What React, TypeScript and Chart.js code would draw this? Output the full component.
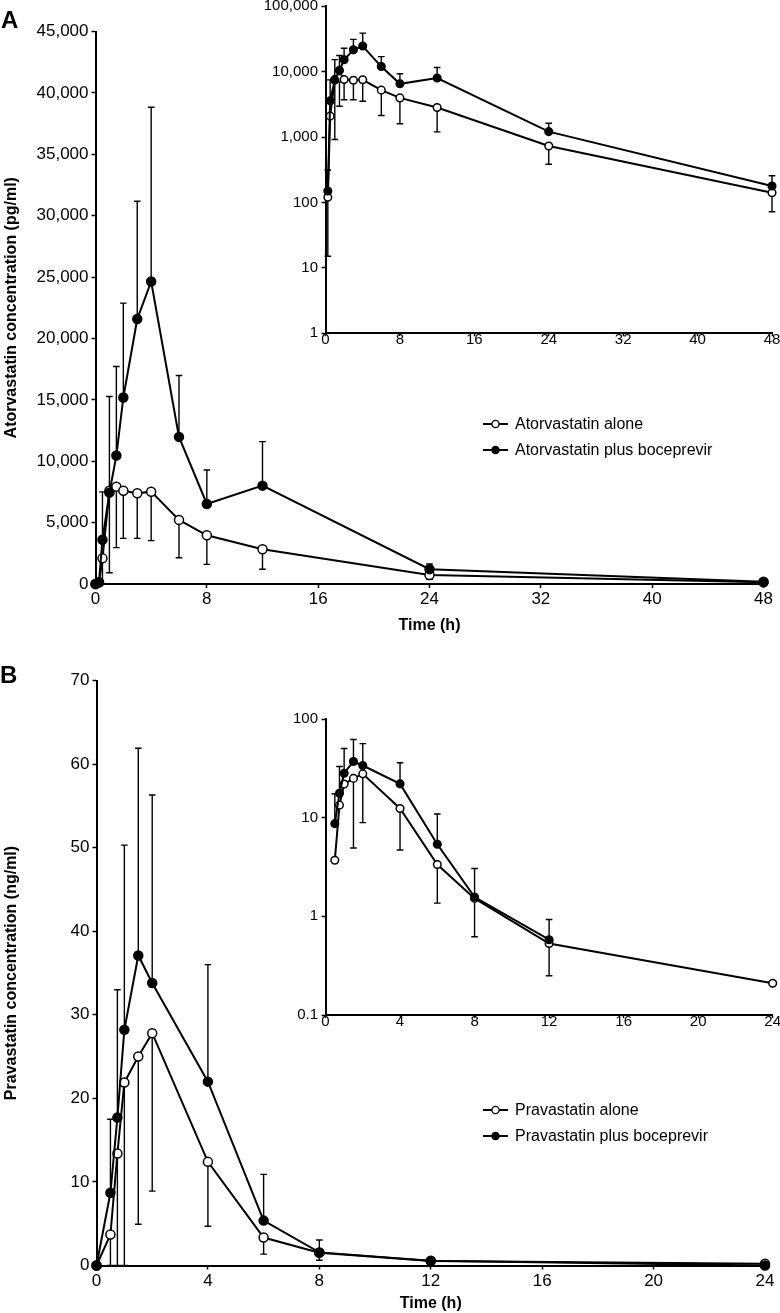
import React, { useEffect, useRef } from 'react';
import { Chart, registerables } from 'chart.js';

Chart.register(...registerables);

const FONT = '"Liberation Sans", Arial, Helvetica, sans-serif';

// ---- Panel A: atorvastatin (pg/ml) ----
const atorTime = [0, 0.25, 0.5, 1, 1.5, 2, 3, 4, 6, 8, 12, 24, 48];
const atorAlone = [0, 120, 2090, 7600, 7930, 7600, 7390, 7520, 5220, 3970, 2830, 731, 141];
const atorAloneLower = [null, 15, 0, 920, 2960, 3720, 3720, 3530, 2140, 1600, 1200, 383, 72];
const atorPlus = [0, 150, 3600, 7440, 10460, 15190, 21580, 24640, 11980, 6520, 8010, 1210, 178];
const atorPlusUpper = [null, 313, 7500, 15270, 17710, 22880, 31170, 38830, 16980, 9290, 11600, 1630, 256];
const atorLogTicks = [1, 10, 100, 1000, 10000, 100000];

// ---- Panel B: pravastatin (ng/ml) ----
const pravaTime = [0, 0.5, 0.75, 1, 1.5, 2, 4, 6, 8, 12, 24];
const pravaAlone = [0, 3.7, 13.4, 21.9, 25.0, 27.8, 12.4, 3.35, 1.52, 0.53, 0.21];
const pravaAloneLower = [null, 0, 0, 0, 4.93, 8.9, 4.7, 1.36, 0.62, 0.25, null];
const pravaPlus = [0, 8.7, 17.7, 28.2, 37.1, 33.8, 22.0, 5.37, 1.57, 0.58, 0];
const pravaPlusUpper = [null, 17.5, 33.0, 50.3, 61.9, 56.3, 36.0, 10.9, 3.05, 0.93, null];
const pravaLogTicks = [0.1, 1, 10, 100];

const labelsA = ['Atorvastatin alone', 'Atorvastatin plus boceprevir'];
const labelsB = ['Pravastatin alone', 'Pravastatin plus boceprevir'];

const fmt = (v: any) => Number(v).toLocaleString('en-US');

const errorBars = {
  id: 'errorBars',
  beforeDatasetsDraw(chart: any) {
    const { ctx } = chart;
    const xs = chart.scales.x;
    const ys = chart.scales.y;
    const isLog = ys.type === 'logarithmic';
    ctx.save();
    ctx.strokeStyle = '#000';
    ctx.lineWidth = 1.4;
    chart.data.datasets.forEach((ds: any) => {
      const b = ds.errBounds;
      if (!b) return;
      ds.data.forEach((p: any, j: number) => {
        const e = b[j];
        if (e == null || p.y == null) return;
        if (isLog && !(e > 0)) return;
        const px = xs.getPixelForValue(p.x);
        const py = ys.getPixelForValue(p.y);
        const ey = ys.getPixelForValue(e);
        ctx.beginPath();
        ctx.moveTo(px, py);
        ctx.lineTo(px, ey);
        ctx.moveTo(px - 3.3, ey);
        ctx.lineTo(px + 3.3, ey);
        ctx.stroke();
      });
    });
    ctx.restore();
  },
};

const symbolLegend = {
  id: 'symbolLegend',
  afterDraw(chart: any, _args: any, opts: any) {
    if (!opts || opts.x == null) return;
    const { ctx } = chart;
    ctx.save();
    chart.data.datasets.forEach((ds: any, i: number) => {
      const y = opts.y + i * opts.gap;
      ctx.strokeStyle = '#000';
      ctx.lineWidth = 2;
      ctx.beginPath();
      ctx.moveTo(opts.x, y);
      ctx.lineTo(opts.x + 25, y);
      ctx.stroke();
      ctx.beginPath();
      ctx.arc(opts.x + 12.5, y, 3.6, 0, Math.PI * 2);
      ctx.fillStyle = ds.pointBackgroundColor;
      ctx.fill();
      ctx.lineWidth = 1.3;
      ctx.stroke();
      ctx.fillStyle = '#000';
      ctx.font = `16px ${FONT}`;
      ctx.textBaseline = 'middle';
      ctx.textAlign = 'left';
      ctx.fillText(ds.label, opts.x + 32, y + 1);
    });
    ctx.restore();
  },
};

function pts(t: number[], v: number[], log: boolean) {
  return t.map((x, i) => ({ x, y: log && !(v[i] > 0) ? null : v[i] }));
}

function makeConfig(p: any) {
  const r = p.inset ? 3.8 : 4.5;
  const ds = (label: string, vals: number[], bounds: any[], filled: boolean) => ({
    label,
    data: pts(p.time, vals, p.inset),
    errBounds: bounds,
    borderColor: '#000',
    borderWidth: 2,
    pointRadius: r,
    pointHoverRadius: r,
    pointBackgroundColor: filled ? '#000' : '#fff',
    pointBorderColor: '#000',
    pointBorderWidth: 1.5,
    tension: 0,
    clip: false,
    order: filled ? 0 : 1,
  });
  const tickSize = p.inset ? 15 : 17;
  const yScale: any = p.inset
    ? {
        type: 'logarithmic',
        min: p.yTicks[0],
        max: p.yTicks[p.yTicks.length - 1],
        afterBuildTicks: (s: any) => {
          s.ticks = p.yTicks.map((v: number) => ({ value: v, major: true }));
        },
      }
    : { type: 'linear', min: 0, max: p.yMax, ticks: { stepSize: p.yStep } };
  yScale.position = 'left';
  yScale.ticks = {
    ...(yScale.ticks || {}),
    callback: fmt,
    color: '#000',
    padding: p.inset ? 3.5 : 3,
    font: { family: FONT, size: tickSize, lineHeight: 1 },
    autoSkip: false,
  };
  yScale.grid = { drawOnChartArea: false, drawTicks: true, tickLength: 4, tickColor: '#000', tickWidth: 1.5 };
  yScale.border = { display: true, color: '#000', width: 2 };
  yScale.afterFit = (s: any) => {
    s.width = p.yWidth;
  };
  if (p.yTitle) {
    yScale.title = {
      display: true,
      text: p.yTitle,
      color: '#000',
      font: { family: FONT, size: 16, weight: 'bold', lineHeight: 1 },
      padding: { top: 4, bottom: 0 },
    };
  }
  const xScale: any = {
    type: 'linear',
    position: 'bottom',
    min: 0,
    max: p.xMax,
    ticks: {
      stepSize: p.xStep,
      callback: fmt,
      color: '#000',
      padding: p.inset ? -4 : 3,
      font: { family: FONT, size: tickSize, lineHeight: 1 },
      autoSkip: false,
      maxRotation: 0,
    },
    grid: { drawOnChartArea: false, drawTicks: true, tickLength: p.inset ? 3 : 4, tickColor: '#000', tickWidth: 1.5 },
    border: { display: true, color: '#000', width: 2 },
    afterFit: (s: any) => {
      s.height = p.xHeight;
    },
  };
  if (!p.inset) {
    xScale.title = {
      display: true,
      text: 'Time (h)',
      color: '#000',
      font: { family: FONT, size: 16, weight: 'bold', lineHeight: 1 },
      padding: { top: 0, bottom: 0 },
    };
  }
  return {
    type: 'line',
    data: {
      datasets: [
        ds(p.labels[0], p.alone, p.aloneLower, false),
        ds(p.labels[1], p.plus, p.plusUpper, true),
      ],
    },
    options: {
      animation: false,
      responsive: false,
      events: [],
      layout: { padding: p.padding },
      scales: { x: xScale, y: yScale },
      plugins: {
        legend: { display: false },
        tooltip: { enabled: false },
        symbolLegend: p.legend || {},
      },
    },
    plugins: [errorBars, symbolLegend],
  };
}

function ChartBox({ config, left, top, width, height }: any) {
  const ref = useRef<HTMLCanvasElement>(null);
  useEffect(() => {
    const chart = new Chart(ref.current as HTMLCanvasElement, config);
    return () => chart.destroy();
  }, []);
  return (
    <canvas
      ref={ref}
      width={width}
      height={height}
      style={{ position: 'absolute', left, top, width, height }}
    />
  );
}

const mainA = makeConfig({
  inset: false,
  time: atorTime, alone: atorAlone, aloneLower: atorAloneLower, plus: atorPlus, plusUpper: atorPlusUpper,
  labels: labelsA,
  xMax: 48, xStep: 8, yMax: 45000, yStep: 5000,
  yTitle: 'Atorvastatin concentration (pg/ml)',
  yWidth: 95.5, xHeight: 50,
  padding: { top: 31.5, right: 16.5, bottom: 6, left: 0 },
  legend: { x: 483, y: 424, gap: 26 },
});

const insetA = makeConfig({
  inset: true,
  time: atorTime, alone: atorAlone, aloneLower: atorAloneLower, plus: atorPlus, plusUpper: atorPlusUpper,
  labels: labelsA,
  xMax: 48, xStep: 8, yTicks: atorLogTicks,
  yWidth: 75.5, xHeight: 30,
  padding: { top: 36.3, right: 38, bottom: 26.8, left: 0 },
});

const mainB = makeConfig({
  inset: false,
  time: pravaTime, alone: pravaAlone, aloneLower: pravaAloneLower, plus: pravaPlus, plusUpper: pravaPlusUpper,
  labels: labelsB,
  xMax: 24, xStep: 4, yMax: 70, yStep: 10,
  yTitle: 'Pravastatin concentration (ng/ml)',
  yWidth: 96.5, xHeight: 46,
  padding: { top: 30.5, right: 15, bottom: 1.5, left: 0 },
  legend: { x: 483, y: 460, gap: 26 },
});

const insetB = makeConfig({
  inset: true,
  time: pravaTime, alone: pravaAlone, aloneLower: pravaAloneLower, plus: pravaPlus, plusUpper: pravaPlusUpper,
  labels: labelsB,
  xMax: 24, xStep: 4, yTicks: pravaLogTicks,
  yWidth: 75.5, xHeight: 30,
  padding: { top: 69, right: 37.3, bottom: 25, left: 0 },
});

const panelLabel: React.CSSProperties = {
  position: 'absolute',
  fontFamily: FONT,
  fontWeight: 'bold',
  fontSize: 24,
  lineHeight: '24px',
  color: '#000',
};

export default function App() {
  return (
    <div
      style={{
        position: 'absolute',
        left: 0,
        top: 0,
        width: 780,
        height: 1313,
        overflow: 'hidden',
        background: '#fff',
      }}
    >
      <ChartBox config={mainA} left={0} top={0} width={780} height={640} />
      <ChartBox config={insetA} left={250} top={-30} width={560} height={420} />
      <ChartBox config={mainB} left={0} top={650} width={780} height={663} />
      <ChartBox config={insetB} left={250} top={650} width={560} height={420} />
      <div style={{ ...panelLabel, left: 1, top: 8 }}>A</div>
      <div style={{ ...panelLabel, left: 0, top: 663 }}>B</div>
    </div>
  );
}
